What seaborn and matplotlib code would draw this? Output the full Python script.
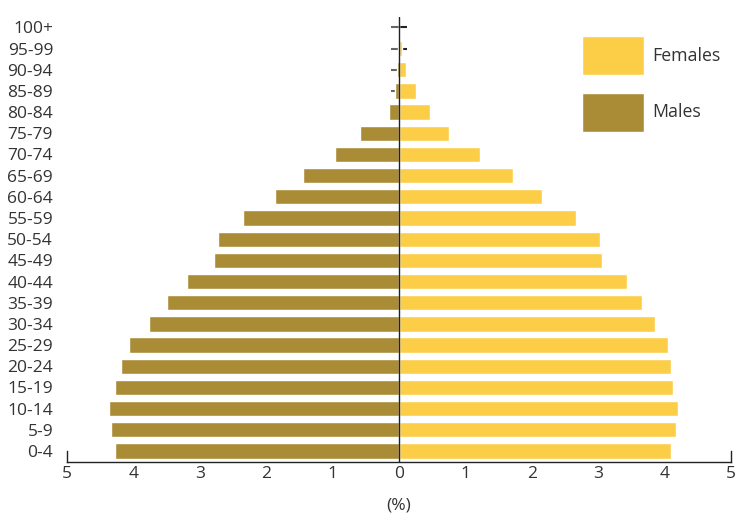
import matplotlib
matplotlib.use("Agg")
import matplotlib.pyplot as plt
import seaborn as sns
import pandas as pd

# Возрастные группы сверху вниз
ages = ["100+", "95-99", "90-94", "85-89", "80-84", "75-79", "70-74", "65-69",
        "60-64", "55-59", "50-54", "45-49", "40-44", "35-39", "30-34", "25-29",
        "20-24", "15-19", "10-14", "5-9", "0-4"]
females = [0.0, 0.04, 0.10, 0.25, 0.47, 0.76, 1.22, 1.71, 2.15, 2.66, 3.02, 3.05,
           3.43, 3.66, 3.85, 4.05, 4.09, 4.12, 4.20, 4.17, 4.09]
males = [0.0, 0.01, 0.025, 0.065, 0.155, 0.58, 0.97, 1.44, 1.87, 2.35, 2.73, 2.79,
         3.20, 3.50, 3.77, 4.06, 4.19, 4.28, 4.37, 4.34, 4.27]
x_ticks = [-5, -4, -3, -2, -1, 0, 1, 2, 3, 4, 5]
sex_labels = ["Females", "Males"]

female_color = "#FCCE48"
male_color = "#AB8C36"
text_color = "#333333"

df = pd.concat([
    pd.DataFrame({"age": ages, "value": females, "sex": "Females"}),
    pd.DataFrame({"age": ages, "value": [-v for v in males], "sex": "Males"}),
])

sns.set_theme(style="white")
plt.rcParams["font.family"] = ["Open Sans", "DejaVu Sans"]
plt.rcParams["text.color"] = text_color

fig = plt.figure(figsize=(7.37, 5.14), dpi=100)
ax = fig.add_axes([67 / 737, 1 - 462 / 514, (731 - 67) / 737, (462 - 17) / 514])

# маленькие риски у нуля (видны только там, где столбики короткие)
tick_half = 0.125
ax.hlines(range(len(ages)), -tick_half, 0, color="#666666", lw=1.5, zorder=0)
ax.hlines(range(len(ages)), 0, tick_half, color="#222222", lw=1.5, zorder=0)

sns.barplot(data=df, x="value", y="age", hue="sex", order=ages, hue_order=sex_labels,
            dodge=False, width=0.72, palette=[female_color, male_color],
            saturation=1, ax=ax, zorder=2)

ax.axvline(0, color="#222222", lw=1, zorder=3)

ax.set_xlim(-5, 5)
ax.set_ylim(len(ages) - 1 + 0.52, -0.49)
ax.set_xticks(x_ticks)
ax.set_xticklabels([str(abs(t)) for t in x_ticks])
ax.tick_params(axis="x", length=0, pad=3, labelsize=12.5, labelcolor=text_color)
ax.tick_params(axis="y", length=0, pad=10, labelsize=12.5, labelcolor=text_color)
ax.set_ylabel("")
ax.set_xlabel("(%)", fontsize=12.5, color=text_color, labelpad=11)

ax.spines["top"].set_visible(False)
for side in ["left", "right", "bottom"]:
    ax.spines[side].set_color("#222222")
    ax.spines[side].set_linewidth(1)
ax.spines["left"].set_bounds(len(ages) - 1 + 0.52, len(ages) - 1)
ax.spines["right"].set_bounds(len(ages) - 1 + 0.52, len(ages) - 1)

handles, labels = ax.get_legend_handles_labels()
ax.legend(handles, labels, loc="upper left", bbox_to_anchor=(582 / 737, 1 - 36 / 514),
          bbox_transform=fig.transFigure, frameon=False, fontsize=12.8,
          handlelength=3.48, handleheight=2.99, labelspacing=1.0, handletextpad=0.45,
          borderpad=0, borderaxespad=0)

fig.savefig("out.png", dpi=100)
